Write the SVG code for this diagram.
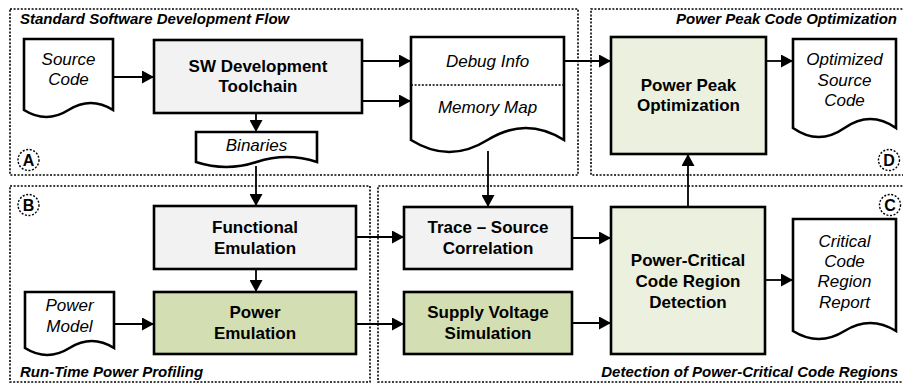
<svg xmlns="http://www.w3.org/2000/svg" width="903" height="385" viewBox="0 0 903 385">
  <defs>
    <marker id="arrow" markerUnits="userSpaceOnUse" markerWidth="13" markerHeight="13" refX="12" refY="6.5" orient="auto">
      <path d="M0,0 L12,6.5 L0,13 Z" fill="#000"/>
    </marker>
    <style>
      .region { fill: none; stroke: #000; stroke-width: 1.6; stroke-dasharray: 2 1.6; }
      .tag { fill: #fff; stroke: #000; stroke-width: 1.4; stroke-dasharray: 2 1.6; }
      .tagtext { font-family: "Liberation Sans", Arial, sans-serif; font-weight: bold; font-size: 16px; text-anchor: middle; }
      .title { font-family: "Liberation Sans", Arial, sans-serif; font-weight: bold; font-style: italic; font-size: 15px; }
      .box { stroke: #000; stroke-width: 2.6; }
      .grey { fill: #f2f2f2; }
      .pale { fill: #ebf1de; }
      .green { fill: #d3dfb3; }
      .doc { fill: #fff; stroke: #000; stroke-width: 2.6; stroke-linejoin: miter; }
      .lbl { font-family: "Liberation Sans", Arial, sans-serif; font-weight: bold; font-size: 17px; text-anchor: middle; }
      .dlbl { font-family: "Liberation Sans", Arial, sans-serif; font-style: italic; font-size: 17px; text-anchor: middle; }
      .sep { stroke: #000; stroke-width: 1.4; stroke-dasharray: 2 1.6; fill: none; }
      .conn path { fill: none; stroke: #000; stroke-width: 1.8; marker-end: url(#arrow); }
    </style>
  </defs>

  <!-- Dotted region frames -->
  <g id="regions">
    <rect class="region" x="10" y="9" width="568" height="166"/>
    <path class="region" d="M906,9 H591 V175 H906"/>
    <rect class="region" x="10" y="186" width="360" height="196"/>
    <path class="region" d="M906,186 H378 V382 H906"/>
    <text class="title" x="20" y="24">Standard Software Development Flow</text>
    <text class="title" x="897" y="24" text-anchor="end">Power Peak Code Optimization</text>
    <text class="title" x="20" y="377">Run-Time Power Profiling</text>
    <text class="title" x="898" y="377" text-anchor="end">Detection of Power-Critical Code Regions</text>
    <circle class="tag" cx="28.5" cy="160" r="10.5"/>
    <text class="tagtext" x="28.5" y="165.8">A</text>
    <circle class="tag" cx="28.5" cy="205" r="10.5"/>
    <text class="tagtext" x="28.5" y="210.8">B</text>
    <circle class="tag" cx="890" cy="205" r="10.5"/>
    <text class="tagtext" x="890" y="210.8">C</text>
    <circle class="tag" cx="889" cy="160" r="10.5"/>
    <text class="tagtext" x="889" y="165.8">D</text>
  </g>

  <!-- Connectors -->
  <g id="connectors" class="conn">
    <path d="M113,77 H154"/>
    <path d="M362,61 H411"/>
    <path d="M362,101 H411"/>
    <path d="M256,113 V132"/>
    <path d="M256,166 V206"/>
    <path d="M256,269 V292"/>
    <path d="M114,324 H154"/>
    <path d="M356,237 H404"/>
    <path d="M356,324 H404"/>
    <path d="M488,151 V207"/>
    <path d="M572,238 H611"/>
    <path d="M572,323 H611"/>
    <path d="M765,280 H793"/>
    <path d="M688,207 V154"/>
    <path d="M564,61 H611"/>
    <path d="M766,61 H793"/>
  </g>

  <!-- Documents -->
  <g id="source-code">
    <path class="doc" d="M24,39 H113 V110 Q90.75,96 68.5,110 Q46.25,124 24,110 Z"/>
    <text class="dlbl" x="68.5" y="65">Source</text>
    <text class="dlbl" x="68.5" y="85">Code</text>
  </g>

  <g id="binaries">
    <path class="doc" d="M196,132 H317 V162 Q286.75,152 256.5,162 Q226.25,172 196,162 Z"/>
    <text class="dlbl" x="256.5" y="151">Binaries</text>
  </g>

  <g id="debug-memory">
    <path class="doc" d="M411,37 H564 V140 Q525.75,116 487.5,140 Q449.25,164 411,140 Z"/>
    <line class="sep" x1="411" y1="85" x2="564" y2="85"/>
    <text class="dlbl" x="487.5" y="67">Debug Info</text>
    <text class="dlbl" x="487.5" y="113">Memory Map</text>
  </g>

  <g id="optimized-source">
    <path class="doc" d="M793,39 H896 V128 Q870.25,110 844.5,128 Q818.75,146 793,128 Z"/>
    <text class="dlbl" x="844.5" y="65">Optimized</text>
    <text class="dlbl" x="844.5" y="86">Source</text>
    <text class="dlbl" x="844.5" y="106">Code</text>
  </g>

  <g id="power-model">
    <path class="doc" d="M25,292 H114 V348 Q91.75,334 69.5,348 Q47.25,362 25,348 Z"/>
    <text class="dlbl" x="69.5" y="311">Power</text>
    <text class="dlbl" x="69.5" y="332">Model</text>
  </g>

  <g id="report">
    <path class="doc" d="M793,219 H896 V331 Q870.25,315 844.5,331 Q818.75,347 793,331 Z"/>
    <text class="dlbl" x="844.5" y="246.5">Critical</text>
    <text class="dlbl" x="844.5" y="267">Code</text>
    <text class="dlbl" x="844.5" y="287">Region</text>
    <text class="dlbl" x="844.5" y="307.5">Report</text>
  </g>

  <!-- Process boxes -->
  <g id="toolchain">
    <rect class="box grey" x="154" y="40" width="208" height="73"/>
    <text class="lbl" x="258" y="72">SW Development</text>
    <text class="lbl" x="258" y="92">Toolchain</text>
  </g>

  <g id="functional-emulation">
    <rect class="box grey" x="154" y="206" width="202" height="63"/>
    <text class="lbl" x="255" y="233">Functional</text>
    <text class="lbl" x="255" y="254">Emulation</text>
  </g>

  <g id="power-emulation">
    <rect class="box green" x="154" y="292" width="202" height="62"/>
    <text class="lbl" x="255" y="318">Power</text>
    <text class="lbl" x="255" y="339">Emulation</text>
  </g>

  <g id="trace-correlation">
    <rect class="box grey" x="404" y="207" width="168" height="62"/>
    <text class="lbl" x="488" y="233">Trace – Source</text>
    <text class="lbl" x="488" y="254">Correlation</text>
  </g>

  <g id="supply-voltage">
    <rect class="box green" x="404" y="292" width="168" height="62"/>
    <text class="lbl" x="488" y="318">Supply Voltage</text>
    <text class="lbl" x="488" y="339">Simulation</text>
  </g>

  <g id="critical-detection">
    <rect class="box pale" x="611" y="207" width="154" height="147"/>
    <text class="lbl" x="688" y="265.5">Power-Critical</text>
    <text class="lbl" x="688" y="286.5">Code Region</text>
    <text class="lbl" x="688" y="307.5">Detection</text>
  </g>

  <g id="power-peak">
    <rect class="box pale" x="611" y="37" width="155" height="117"/>
    <text class="lbl" x="688.5" y="91">Power Peak</text>
    <text class="lbl" x="688.5" y="111">Optimization</text>
  </g>
</svg>
